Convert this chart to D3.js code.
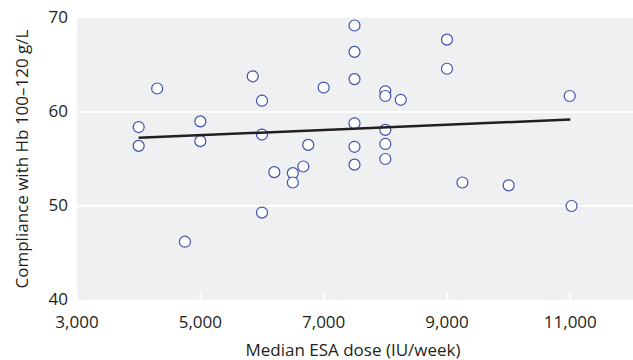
<!DOCTYPE html>
<html>
<head>
<meta charset="utf-8">
<script src="https://cdn.jsdelivr.net/npm/d3@7"></script>
<style>
  html, body { margin: 0; padding: 0; background: #ffffff; }
  svg { display: block; font-family: "Open Sans", "Noto Sans", sans-serif; }
</style>
</head>
<body>
<svg id="chart" width="633" height="360"></svg>
<script>
// Median ESA dose (IU/week) per centre
const doses = [
  4000, 4000, 4300, 4750, 5000, 5000, 5850, 6000, 6000, 6000,
  6200, 6500, 6500, 6670, 6750, 7000,
  7500, 7500, 7500, 7500, 7500, 7500,
  8000, 8000, 8000, 8000, 8000, 8250,
  9000, 9000, 9250, 10000, 10990, 11020
];
// Compliance with Hb 100–120 g/L (%)
const compliance = [
  58.4, 56.4, 62.5, 46.2, 59.0, 56.9, 63.8, 61.2, 57.6, 49.3,
  53.6, 53.5, 52.5, 54.2, 56.5, 62.6,
  69.2, 66.4, 63.5, 58.8, 56.3, 54.4,
  62.2, 61.7, 58.1, 56.6, 55.0, 61.3,
  67.7, 64.6, 52.5, 52.2, 61.7, 50.0
];
// Fitted linear trend (end points)
const trendX = [4000, 11000];
const trendY = [57.25, 59.2];

const xTicks = [3000, 5000, 7000, 9000, 11000];
const yTicks = [40, 50, 60, 70];

const svg = d3.select("#chart");
const plot = { left: 77, right: 633, top: 18, bottom: 300 };

const x = d3.scaleLinear().domain([3000, 12000]).range([plot.left, plot.right - 1]);
const y = d3.scaleLinear().domain([40, 70]).range([plot.bottom, plot.top]);

const textColor = "#231f20";
const fontSize = 17;

// panel background
svg.append("rect")
  .attr("x", plot.left).attr("y", plot.top)
  .attr("width", plot.right - plot.left).attr("height", plot.bottom - plot.top)
  .attr("fill", "#eff0f2");

// horizontal gridlines
svg.append("g").selectAll("line")
  .data(yTicks.filter(v => v > 40 && v < 70))
  .join("line")
  .attr("x1", plot.left).attr("x2", plot.right)
  .attr("y1", d => y(d)).attr("y2", d => y(d))
  .attr("stroke", "#ffffff").attr("stroke-width", 2);

// short white tick marks along the bottom of the panel
svg.append("g").selectAll("line")
  .data(xTicks)
  .join("line")
  .attr("x1", d => x(d)).attr("x2", d => x(d))
  .attr("y1", plot.bottom - 7).attr("y2", plot.bottom)
  .attr("stroke", "#ffffff").attr("stroke-width", 2);

// y tick labels
svg.append("g").selectAll("text")
  .data(yTicks)
  .join("text")
  .attr("x", 68)
  .attr("y", d => y(d) + 5)
  .attr("text-anchor", "end")
  .attr("font-size", fontSize)
  .attr("fill", textColor)
  .text(d => d);

// x tick labels
const fmt = d3.format(",");
svg.append("g").selectAll("text")
  .data(xTicks)
  .join("text")
  .attr("x", d => x(d))
  .attr("y", 328)
  .attr("text-anchor", "middle")
  .attr("font-size", fontSize)
  .attr("fill", textColor)
  .text(d => fmt(d));

// axis titles
svg.append("text")
  .attr("x", 353).attr("y", 356)
  .attr("text-anchor", "middle")
  .attr("font-size", fontSize)
  .attr("fill", textColor)
  .text("Median ESA dose (IU/week)");

svg.append("text")
  .attr("transform", "translate(28,159) rotate(-90)")
  .attr("text-anchor", "middle")
  .attr("font-size", fontSize)
  .attr("fill", textColor)
  .text("Compliance with Hb 100–120 g/L");

// data points
const points = doses.map((d, i) => ({ dose: d, value: compliance[i] }));
svg.append("g").selectAll("circle")
  .data(points)
  .join("circle")
  .attr("cx", d => x(d.dose))
  .attr("cy", d => y(d.value))
  .attr("r", 5.5)
  .attr("fill", "#ffffff")
  .attr("stroke", "#4150aa")
  .attr("stroke-width", 1.2);

// trend line
const trend = trendX.map((d, i) => [d, trendY[i]]);
svg.append("path")
  .datum(trend)
  .attr("d", d3.line().x(d => x(d[0])).y(d => y(d[1])))
  .attr("fill", "none")
  .attr("stroke", textColor)
  .attr("stroke-width", 2.5);
</script>
</body>
</html>
